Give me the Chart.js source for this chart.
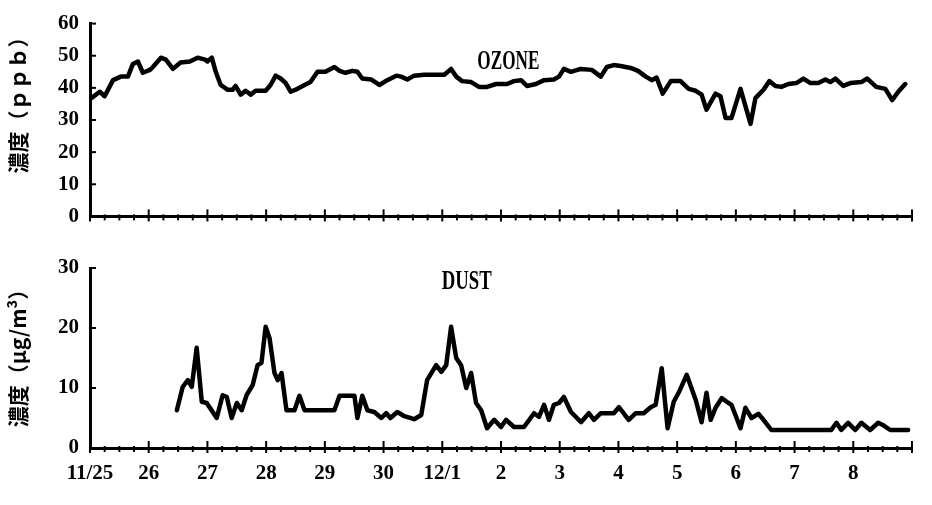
<!DOCTYPE html>
<html>
<head>
<meta charset="utf-8">
<script src="https://cdn.jsdelivr.net/npm/chart.js@4"></script>
<style>
html, body { margin: 0; padding: 0; background: #fff; }
#wrap { position: relative; width: 932px; height: 505px; overflow: hidden; }
canvas { position: absolute; left: 0; }
#ozone { top: 0; }
#dust { top: 240px; }
</style>
</head>
<body>
<div id="wrap">
  <canvas id="ozone" width="932" height="240"></canvas>
  <canvas id="dust" width="932" height="265"></canvas>
</div>
<script>
// heures depuis le 11/25 0h
const dayLabels = ['11/25', '26', '27', '28', '29', '30', '12/1', '2', '3', '4', '5', '6', '7', '8', ''];

const ozoneHours = [0, 4, 6, 9.4, 12.6, 15.5, 17.5, 19.6, 21.6, 24.5, 25.7, 29, 31, 33.9, 37, 40.8, 44, 47, 48, 49.8,
  51.4, 53.4, 56.3, 58.3, 59.5, 61.6, 63.6, 65.7, 67.7, 71.8, 73.8, 75.9, 77.9, 80, 82, 84.8, 87.7, 90.1, 93, 96.2,
  99.9, 102, 104.4, 107.3, 109.3, 111.3, 115, 118.3, 121.5, 125.2, 127.2, 129.7, 132.5, 136.6, 144.8, 147.6, 149.7, 152.1, 155.8, 159,
  162.3, 166, 170.5, 173.3, 176.2, 178.6, 182.3, 185.6, 189.6, 191.7, 193.7, 196.6, 200.6, 205.1, 208.8, 211.3, 214.1, 216.9, 221, 224,
  227.2, 229.6, 231.6, 234.1, 237.4, 241.4, 244.7, 247.6, 250, 252, 255.7, 257.7, 259.8, 262.2, 265.9, 270, 272, 275.3, 277.7, 280.2,
  282.6, 285.5, 288.7, 291.6, 294.5, 297.7, 300.6, 302.6, 304.7, 307.9, 310.8, 315.3, 317.7, 321.4, 325.1, 327.9, 330.4, 333.2];
const ozoneValues = [36.5, 38.8, 37.4, 42.4, 43.5, 43.5, 47.4, 48.2, 44.7, 45.6, 46.5, 49.4, 48.8, 45.9, 47.9, 48.2, 49.4, 48.8, 48.2, 49.4,
  45, 40.9, 39.4, 39.4, 40.6, 37.9, 39.1, 37.9, 39.1, 39.1, 40.9, 43.8, 42.9, 41.5, 38.8, 39.7, 40.9, 41.8, 45, 45,
  46.5, 45.3, 44.7, 45.3, 45, 42.9, 42.6, 40.9, 42.4, 43.8, 43.5, 42.6, 43.8, 44.1, 44.1, 45.9, 43.5, 42.1, 41.8, 40.3,
  40.3, 41.2, 41.2, 42.1, 42.4, 40.6, 41.2, 42.4, 42.6, 43.5, 45.9, 45, 45.9, 45.6, 43.5, 46.5, 47.1, 46.8, 46.2, 45.3,
  43.5, 42.4, 43.2, 38.2, 42.1, 42.1, 39.7, 39.1, 37.9, 33.2, 38.2, 37.4, 30.6, 30.6, 39.7, 28.8, 36.8, 39.4, 42.1, 40.6,
  40.3, 41.2, 41.5, 42.9, 41.5, 41.5, 42.6, 41.8, 42.9, 40.6, 41.5, 41.8, 42.9, 40.3, 39.7, 36.2, 38.8, 41.2];

const dustHours = [35.5, 37.9, 40, 41.6, 43.6, 45.7, 47.7, 51.8, 54.2, 55.9, 57.9, 60, 62, 64, 66.5, 68.5, 70.1, 71.8, 73.4, 75.4,
  76.7, 78.3, 80.3, 83.6, 85.6, 87.7, 99.9, 102, 108.1, 109.3, 111.3, 113.4, 116.2, 119.1, 121.1, 122.8, 125.6, 128.5, 132.5, 135.4,
  137.8, 141.5, 143.6, 145.6, 147.6, 149.7, 151.7, 153.8, 155.8, 157.8, 159.9, 162.3, 165.2, 168, 170.1, 173.3, 177.4, 181.5, 183.5, 185.6,
  187.6, 189.6, 191.7, 193.7, 196.6, 200.7, 203.9, 206, 208.8, 214.1, 216.2, 220.2, 223.1, 226.3, 229.2, 231.2, 233.7, 236.1, 238.6, 240.6,
  243.9, 247.6, 250, 252, 253.7, 255.7, 258.2, 261, 262.2, 265.9, 267.9, 270.4, 273.2, 275.3, 278.5, 303, 305.1, 307.1, 309.9, 312.8,
  315.3, 318.9, 322.2, 324.2, 327.1, 334.4];
const dustValues = [6.3, 10.2, 11.3, 10.2, 16.7, 7.7, 7.5, 5, 8.8, 8.5, 5, 7.5, 6.3, 8.8, 10.5, 13.8, 14.2, 20.2, 18.3, 12.5,
  11.3, 12.5, 6.3, 6.3, 8.7, 6.3, 6.3, 8.7, 8.7, 5, 8.7, 6.3, 6, 5, 5.8, 5, 6, 5.3, 4.8, 5.5,
  11.3, 13.8, 12.7, 13.8, 20.2, 15, 13.8, 10, 12.5, 7.5, 6.3, 3.3, 4.7, 3.5, 4.7, 3.5, 3.5, 5.8, 5.2, 7.2,
  4.7, 7.2, 7.5, 8.5, 6, 4.3, 5.8, 4.7, 5.8, 5.8, 6.8, 4.7, 5.8, 5.8, 6.8, 7.2, 13.3, 3.3, 7.7, 9.2,
  12.2, 8, 4.3, 9.2, 4.7, 6.7, 8.3, 7.5, 7.2, 3.3, 6.7, 5, 5.7, 4.7, 3, 3, 4.2, 3, 4.2, 3,
  4.2, 3, 4.2, 3.8, 3, 3];

const tickFont = { family: '"Liberation Serif", serif', size: 21, weight: 'bold' };

// petits traits de graduation, étiquette de série et titre vertical
const axisMarks = {
  id: 'axisMarks',
  afterDraw(chart, args, opts) {
    const ctx = chart.ctx;
    const xs = chart.scales.x, ys = chart.scales.y;
    const area = chart.chartArea;
    ctx.save();
    ctx.strokeStyle = '#000';
    ctx.lineWidth = 2;
    ys.ticks.forEach(t => {
      const py = ys.getPixelForValue(t.value);
      ctx.beginPath();
      ctx.moveTo(area.left, py);
      ctx.lineTo(area.left + 6, py);
      ctx.stroke();
    });
    for (let h = xs.min; h <= xs.max; h += 6) {
      const px = xs.getPixelForValue(h);
      const major = h % 24 === 0;
      ctx.beginPath();
      ctx.moveTo(px, area.bottom - (major ? 7 : 2));
      ctx.lineTo(px, area.bottom + (major ? 5 : 4));
      ctx.stroke();
    }

    ctx.fillStyle = '#000';
    ctx.textAlign = 'center';
    ctx.textBaseline = 'middle';
    ctx.font = 'bold 28px "Liberation Serif", serif';
    const w = ctx.measureText(opts.label).width;
    ctx.save();
    ctx.translate(xs.getPixelForValue(opts.labelX), ys.getPixelForValue(opts.labelY));
    ctx.scale(opts.labelWidth / w, 1);
    ctx.fillText(opts.label, 0, 0);
    ctx.restore();

    ctx.font = 'bold 21px "Noto Sans CJK JP", sans-serif';
    ctx.translate(18, opts.titleY);
    ctx.rotate(-Math.PI / 2);
    ctx.fillText(opts.title, 0, 0);
    ctx.restore();
  }
};

function makeChart(id, hours, values, yMax, showLabels, padding, marks) {
  return new Chart(document.getElementById(id), {
    type: 'line',
    data: {
      datasets: [{
        data: hours.map((h, i) => ({ x: h, y: values[i] })),
        borderColor: '#000',
        borderWidth: 4.5,
        borderJoinStyle: 'round',
        borderCapStyle: 'round',
        pointRadius: 0,
        tension: 0,
        fill: false
      }]
    },
    options: {
      responsive: false,
      animation: false,
      devicePixelRatio: 1,
      layout: { padding: padding },
      plugins: {
        legend: { display: false },
        tooltip: { enabled: false },
        axisMarks: marks
      },
      scales: {
        x: {
          type: 'linear',
          min: 0,
          max: 336,
          grid: { display: false, drawTicks: false },
          border: { display: true, color: '#000', width: 3 },
          ticks: {
            display: showLabels,
            stepSize: 24,
            autoSkip: false,
            maxRotation: 0,
            padding: 13,
            color: '#000',
            font: tickFont,
            callback: v => dayLabels[v / 24] || ''
          },
          afterFit: s => { s.height = showLabels ? 40 : 0; }
        },
        y: {
          min: 0,
          max: yMax,
          grid: { display: false, drawTicks: false },
          border: { display: true, color: '#000', width: 3 },
          ticks: { stepSize: 10, padding: 11, color: '#000', font: tickFont },
          afterFit: s => { s.width = 50; }
        }
      }
    },
    plugins: [axisMarks]
  });
}

makeChart('ozone', ozoneHours, ozoneValues, 60, false,
  { left: 40, right: 20, top: 22, bottom: 14 },
  { label: 'OZONE', labelX: 171, labelY: 48.2, labelWidth: 62, title: '濃度（ｐｐｂ）', titleY: 100 });

makeChart('dust', dustHours, dustValues, 30, true,
  { left: 40, right: 20, top: 28, bottom: 17 },
  { label: 'DUST', labelX: 154, labelY: 27.7, labelWidth: 50, title: '濃度（μg/m³）', titleY: 113 });
</script>
</body>
</html>
